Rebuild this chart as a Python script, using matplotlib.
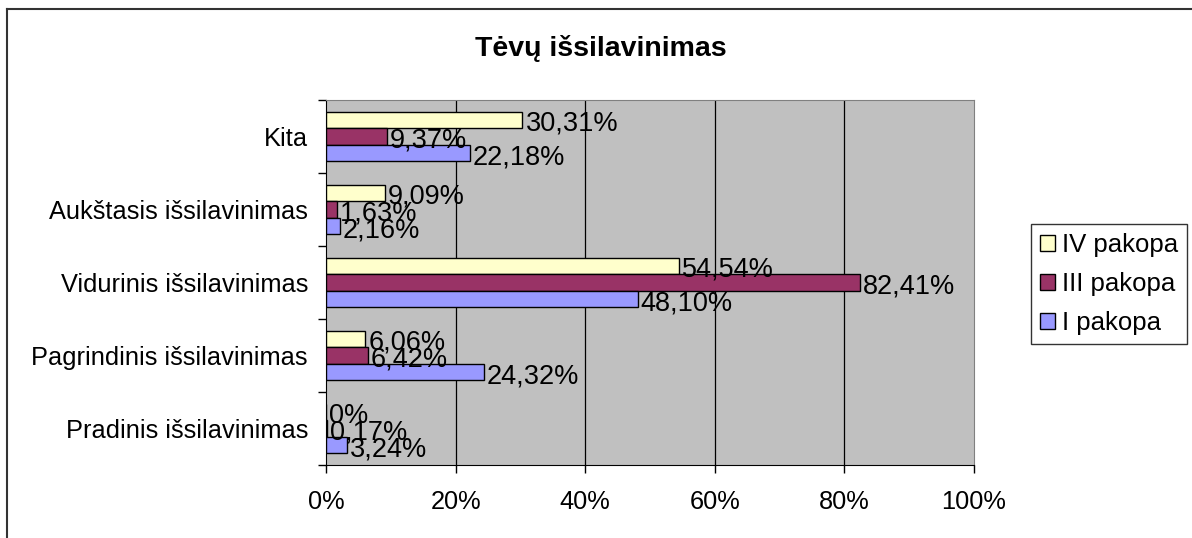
import numpy as np
import matplotlib.pyplot as plt
from matplotlib.lines import Line2D
from matplotlib.patches import Patch
from matplotlib.transforms import offset_copy

plt.rcParams['font.family'] = ['Liberation Sans', 'DejaVu Sans']

# data (top to bottom in the chart)
categories = ["Kita", "Aukštasis išsilavinimas", "Vidurinis išsilavinimas",
              "Pagrindinis išsilavinimas", "Pradinis išsilavinimas"]
iv_pakopa = [30.31, 9.09, 54.54, 6.06, 0.0]
iii_pakopa = [9.37, 1.63, 82.41, 6.42, 0.17]
i_pakopa = [22.18, 2.16, 48.10, 24.32, 3.24]

series_names = ["IV pakopa", "III pakopa", "I pakopa"]
series_vals = [iv_pakopa, iii_pakopa, i_pakopa]
colors = ["#FFFFCC", "#993366", "#9999FF"]


def fmt(v):
    if v == 0:
        return "0%"
    return f"{v:.2f}".replace('.', ',') + "%"


W, H = 1192, 538
fig = plt.figure(figsize=(W / 100, H / 100), dpi=100)
fig.patch.set_facecolor('white')

ax = fig.add_axes([326 / W, (H - 465) / H, 648 / W, 365 / H])
ax.set_facecolor('#C0C0C0')

n = len(categories)
ypos = np.arange(n)[::-1]          # Kita at top
h = 0.228
offsets = [h, 0, -h]               # IV top, III middle, I bottom

# data labels sit a little below the bar centre, like Excel draws them
lbl_tr = offset_copy(ax.transData, fig=fig, x=3, y=-4, units='dots')

for name, vals, col, off in zip(series_names, series_vals, colors, offsets):
    ax.barh(ypos + off, vals, height=h, color=col, edgecolor='black',
            linewidth=1.0, zorder=3, label=name)
    for y, v in zip(ypos, vals):
        ax.text(v, y + off, fmt(v), va='center', ha='left',
                fontsize=19.5, zorder=4, transform=lbl_tr)

ax.set_xlim(0, 100)
ax.set_ylim(-0.5, n - 0.5)

# grid lines
for gx in [20, 40, 60, 80]:
    ax.axvline(gx, color='black', linewidth=0.9, zorder=1)

ax.set_xticks(np.arange(0, 101, 20))
ax.set_xticklabels([f"{t}%" for t in range(0, 101, 20)], fontsize=18.3)
ax.tick_params(axis='x', direction='out', length=6, width=1, pad=12)

ax.set_yticks(np.arange(n + 1) - 0.5)
ax.set_yticklabels([])
ax.set_yticks(ypos, minor=True)
ax.set_yticklabels(categories, minor=True, fontsize=18.3)
ax.tick_params(axis='y', which='major', direction='out', length=6, width=1)
ax.tick_params(axis='y', which='minor', length=0, pad=13)

for side in ['top', 'right']:
    ax.spines[side].set_color('#808080')
for side in ['left', 'bottom']:
    ax.spines[side].set_color('black')

fig.text(601 / W, 1 - 48 / H, "Tėvų išsilavinimas", ha='center', va='center',
         fontsize=20.5, fontweight='bold')

handles = [Patch(facecolor=c, edgecolor='black', linewidth=1.0) for c in colors]
leg = fig.legend(handles, series_names, loc='center left',
                 bbox_to_anchor=(1031 / W, 1 - 284 / H), frameon=True,
                 fancybox=False, edgecolor='black', fontsize=18.5,
                 handlelength=0.57, handleheight=0.57, handletextpad=0.3,
                 borderpad=0.35, labelspacing=0.58, borderaxespad=0)
leg.get_frame().set_linewidth(1.0)

# outer chart frame (top and left visible)
fig.add_artist(Line2D([6.5 / W, 1.0], [1 - 8.5 / H, 1 - 8.5 / H],
                      transform=fig.transFigure, color='#333333', linewidth=1.5))
fig.add_artist(Line2D([6.5 / W, 6.5 / W], [0, 1 - 8.5 / H],
                      transform=fig.transFigure, color='#333333', linewidth=1.5))

fig.savefig("out.png", dpi=100)
